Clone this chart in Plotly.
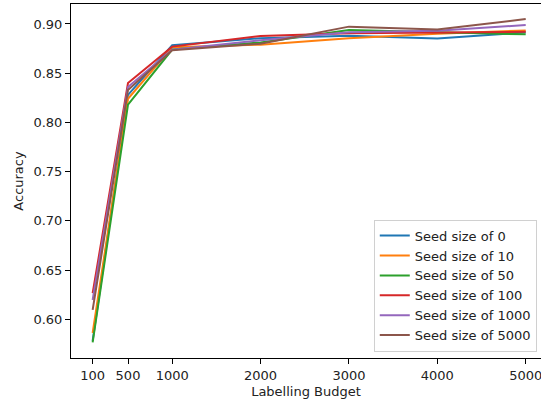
import plotly.graph_objects as go

budgets = [100, 500, 1000, 2000, 3000, 4000, 5000]
tick_labels = ["100", "500", "1000", "2000", "3000", "4000", "5000"]

seed_0 = [0.578, 0.828, 0.8783, 0.8855, 0.888, 0.8852, 0.8915]
seed_10 = [0.586, 0.824, 0.8763, 0.8790, 0.8854, 0.8900, 0.8935]
seed_50 = [0.5765, 0.818, 0.8740, 0.8812, 0.8939, 0.8915, 0.8895]
seed_100 = [0.6265, 0.8400, 0.8770, 0.8878, 0.8905, 0.8915, 0.8920]
seed_1000 = [0.6195, 0.8360, 0.8738, 0.8835, 0.8915, 0.8930, 0.8990]
seed_5000 = [0.6095, 0.8330, 0.8733, 0.8800, 0.8973, 0.8944, 0.9050]

series = [
    ("Seed size of 0", seed_0, "#1f77b4"),
    ("Seed size of 10", seed_10, "#ff7f0e"),
    ("Seed size of 50", seed_50, "#2ca02c"),
    ("Seed size of 100", seed_100, "#d62728"),
    ("Seed size of 1000", seed_1000, "#9467bd"),
    ("Seed size of 5000", seed_5000, "#8c564b"),
]

fig = go.Figure()
for name, vals, color in series:
    fig.add_trace(go.Scatter(x=budgets, y=vals, mode="lines", name=name,
                             line=dict(color=color, width=2)))

font = dict(family="DejaVu Sans", size=13, color="#222222")
fig.update_layout(
    width=541, height=401,
    margin=dict(l=71, r=0, t=4, b=43),
    paper_bgcolor="white", plot_bgcolor="white",
    font=font,
    showlegend=True,
    legend=dict(x=0.991, y=0.018, xanchor="right", yanchor="bottom",
                bgcolor="white", bordercolor="#d0d0d0", borderwidth=1,
                font=font),
    xaxis=dict(range=[-145, 5173], tickvals=budgets, ticktext=tick_labels,
               showgrid=False, zeroline=False, showline=True, linecolor="black",
               linewidth=1, mirror=True, ticks="outside", ticklen=5,
               tickcolor="black", ticklabeloverflow="allow",
               title=dict(text="Labelling Budget", standoff=5, font=font)),
    yaxis=dict(range=[0.5606, 0.9203], tickvals=[0.60, 0.65, 0.70, 0.75, 0.80, 0.85, 0.90],
               tickformat=".2f", showgrid=False, zeroline=False, showline=True,
               linecolor="black", linewidth=1, mirror=False, ticks="outside",
               ticklen=5, tickcolor="black",
               title=dict(text="Accuracy", standoff=6, font=font)),
)

fig.write_html("out.html", config={"displayModeBar": False},
               post_script="document.body.style.margin='0';document.body.style.overflow='hidden';")
